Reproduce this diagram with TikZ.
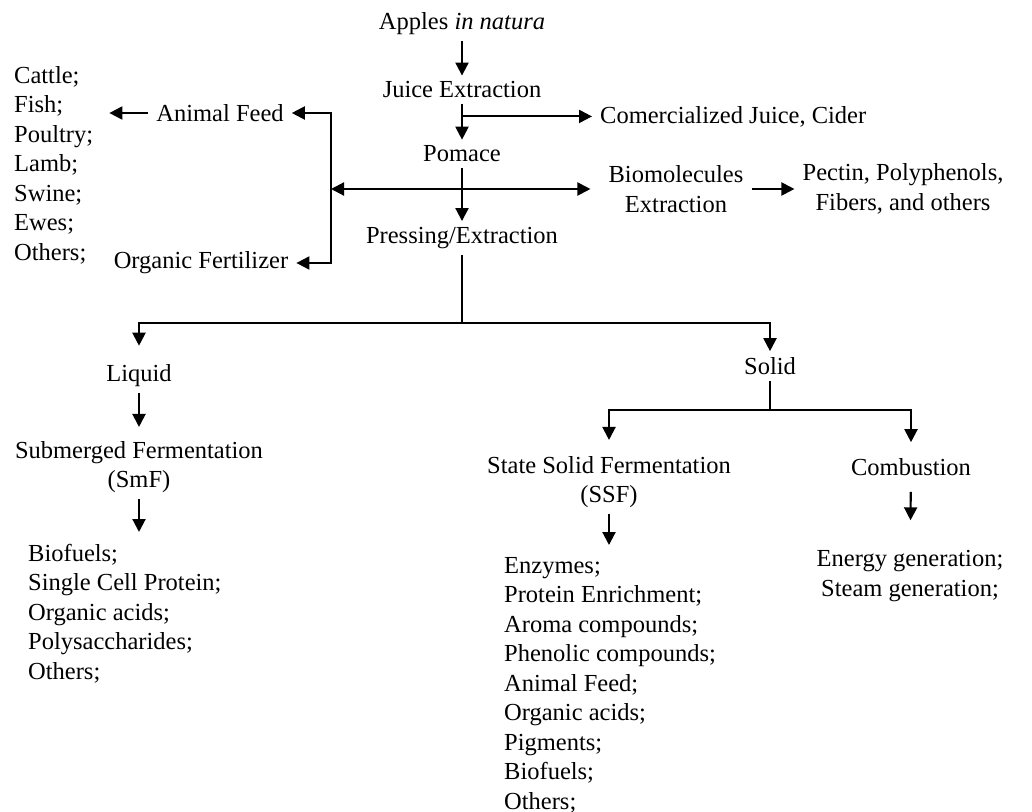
\documentclass[tikz,border=0pt]{standalone}
\usepackage{fontspec}
\setmainfont{Liberation Serif}
\usetikzlibrary{arrows.meta, positioning}
\tikzstyle{txt} = [inner xsep=8pt, inner ysep=6pt, align=center]
\tikzstyle{lst} = [inner xsep=0pt, inner ysep=12pt, align=left, anchor=north west]
\tikzstyle{link} = [line width=1.3pt]
\tikzstyle{arrow} = [line width=2.1pt, -{Triangle[length=13pt,width=13pt]}]
\tikzstyle{dblarrow} = [line width=2.1pt, {Triangle[length=13pt,width=13pt]}-{Triangle[length=13pt,width=13pt]}]

\begin{document}
\begin{tikzpicture}[x=1pt, y=1pt, node distance=64pt, font=\fontsize{24.5}{29.5}\selectfont]
\useasboundingbox (0,0) rectangle (1032,-811);

% Main line
\node (apples) [txt] at (462,-24) {Apples \textit{in natura}};
\node (juice) [txt, below of=apples, yshift=-2pt] {Juice Extraction};
\node (pomace) [txt, below of=juice] {Pomace};
\node (press) [txt, below of=pomace, yshift=-20pt] {Pressing/Extraction};

% Juice side
\coordinate (jsplit) at ([yshift=-12pt]juice.south);
\node (comjuice) [txt, anchor=west] at ([xshift=130pt]jsplit) {Comercialized Juice, Cider};

% Pomace uses
\coordinate (brk) at (331,-189);
\node (biomol) [txt] at (676,-189) {Biomolecules\\Extraction};
\node (pectin) [txt] at (903,-189) {Pectin, Polyphenols,\\Fibers, and others};
\node (feed) [txt] at (220,-113) {Animal Feed};
\node (fert) [txt] at (201,-263) {Organic Fertilizer};
\node (animals) [lst] at (14,-54) {Cattle;\\Fish;\\Poultry;\\Lamb;\\Swine;\\Ewes;\\Others;};

% Liquid branch
\node (liquid) [txt] at (139,-376) {Liquid};
\node (smf) [txt] at (139,-467) {Submerged Fermentation\\(SmF)};
\node (smflist) [lst] at (28,-532) {Biofuels;\\Single Cell Protein;\\Organic acids;\\Polysaccharides;\\Others;};

% Solid branch
\node (solid) [txt] at (770,-366) {Solid};
\node (ssf) [txt] at (609,-482) {State Solid Fermentation\\(SSF)};
\node (ssflist) [lst] at (504,-545) {Enzymes;\\Protein Enrichment;\\Aroma compounds;\\Phenolic compounds;\\Animal Feed;\\Organic acids;\\Pigments;\\Biofuels;\\Others;};
\node (combust) [txt] at (911,-467) {Combustion};
\node (energy) [txt] at (910,-576) {Energy generation;\\Steam generation;};

% Arrows along the main line
\draw [arrow] (apples) -- (juice);
\draw [arrow] (juice) -- (pomace);
\draw [arrow] (pomace) -- (press);
\draw [arrow] (jsplit) -- (comjuice);

% Arrows for pomace uses
\draw [dblarrow, shorten >=10pt] (brk) -- (biomol);
\draw [arrow] (biomol) -- (pectin);
\draw [arrow] (brk) |- (feed);
\draw [arrow] (brk) |- (fert);
\draw [arrow] (feed.west) -- ([xshift=16pt]animals.east |- feed.west);

% Liquid and solid split
\coordinate (psplit) at ([yshift=-68pt]press.south);
\draw [link] (press) -- (psplit);
\draw [arrow, shorten >=13pt] (psplit) -| (liquid);
\draw [arrow] (psplit) -| (solid);
\draw [arrow, shorten >=8pt] (liquid) -- (smf);
\draw [arrow] (smf) -- (smf |- smflist.north);

\coordinate (ssplit) at ([yshift=-29pt]solid.south);
\draw [link] (solid) -- (ssplit);
\draw [arrow, shorten >=10pt] (ssplit) -| (ssf);
\draw [arrow, shorten >=10pt] (ssplit) -| (combust);
\draw [arrow] (ssf) -- (ssf |- ssflist.north);
\draw [arrow, shorten <=10pt, shorten >=24pt] (combust) -- (energy);

\end{tikzpicture}
\end{document}
